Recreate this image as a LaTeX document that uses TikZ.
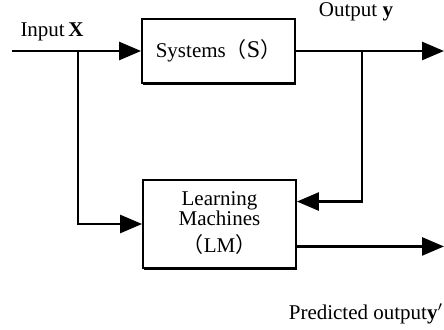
\documentclass[tikz,border=0pt]{standalone}
\usepackage{fontspec}
\setmainfont{Liberation Serif}
\newfontfamily\cjk{Noto Sans CJK SC}
\usetikzlibrary{arrows.meta}
\usetikzlibrary{shadows}
\usetikzlibrary{calc}

\tikzset{
  blockbox/.style={draw, line width=0.9pt, fill=white, align=center,
    minimum width=76.5pt, inner sep=2pt,
    drop shadow={shadow xshift=0.4pt, shadow yshift=-1pt, opacity=1, fill=black}},
  flow/.style={line width=1.3pt, -{Triangle[length=11pt,width=9pt]}},
}

\begin{document}
\begin{tikzpicture}[x=0.5pt, y=-0.5pt, font=\fontsize{10.5}{12}\selectfont]
  \useasboundingbox (0,0) rectangle (444,330);

	% blocks
	\node[blockbox, minimum height=32pt] (sys) at (218.5,51) {Systems{\cjk （}{\large S}{\cjk ）}};
	\node[blockbox, minimum height=44pt] (lm) at (219.5,224)
		{\raisebox{3.5pt}{\begin{tabular}{@{}c@{}}Learning\\[-2pt] Machines\\[1pt] {\cjk （}LM{\cjk ）}\end{tabular}}};

	% free ends
	\coordinate (in) at (12,51);
	\coordinate (fork) at (78,51);
	\coordinate (split) at (362,51);
	\coordinate (out) at (444,51);
	\coordinate (back) at ($(lm.north east)!0.25!(lm.south east)$);
	\coordinate (pred) at ($(lm.north east)!0.75!(lm.south east)$);

	\draw[flow] (in) -- (sys.west);
	\draw[flow] (fork) |- (lm.west);
	\draw[flow] (sys.east) -- (out);
	\draw[flow] (split) |- (back);
	\draw[flow] (pred) -- (pred -| out);

	% labels
	\node (inlab) at (52,32) {Input\,\textbf{X}};
	\node (outlab) at (356,12) {Output \textbf{y}};
	\node (predlab) at (366,314) {Predicted output\textbf{y}$'$};
\end{tikzpicture}
\end{document}
